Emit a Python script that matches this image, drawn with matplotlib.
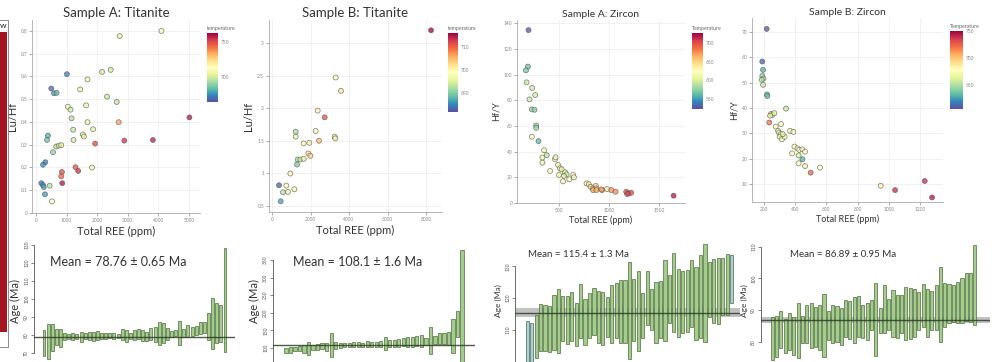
import numpy as np
import matplotlib
matplotlib.use("Agg")
import matplotlib.pyplot as plt
from matplotlib.patches import Rectangle
from matplotlib.ticker import FormatStrFormatter

plt.rcParams['font.family'] = ['Lato', 'DejaVu Sans']

W, H = 1000, 362

# ---- scatter data: Total REE (ppm), ratio, temperature ----
a_ree = [2734, 4100, 1009, 2159, 2441, 1682, 499, 586, 673, 1443, 2322, 2637, 1042, 1128, 1638,
         1161, 1682, 2702, 5013, 1215, 1866, 390, 358, 1530, 1562, 1226, 1931, 2886, 3819, 662,
         749, 825, 553, 304, 228, 846, 825, 1291, 1378, 1834, 857, 174, 228, 250, 445, 293, 521]
a_luhf = [0.777, 0.80, 0.610, 0.62, 0.629, 0.587, 0.547, 0.526, 0.528, 0.543, 0.511, 0.488, 0.467,
          0.454, 0.473, 0.416, 0.399, 0.399, 0.420, 0.366, 0.368, 0.340, 0.321, 0.345, 0.336, 0.321,
          0.305, 0.318, 0.321, 0.292, 0.296, 0.298, 0.267, 0.223, 0.212, 0.180, 0.161, 0.201, 0.185,
          0.200, 0.131, 0.131, 0.123, 0.114, 0.120, 0.082, 0.051]
a_temp = [705, 710, 672, 700, 700, 708, 668, 678, 682, 705, 698, 698, 708, 700, 708,
          695, 705, 735, 760, 698, 705, 680, 683, 705, 705, 700, 750, 755, 758, 695,
          702, 703, 690, 672, 675, 750, 745, 748, 755, 708, 760, 672, 675, 678, 695, 676, 712]

b_ree = [8261, 3308, 3585, 2373, 2737, 1230, 1230, 2269, 3256, 3290, 2442, 1645, 1940, 1888, 1992,
         1334, 1472, 1645, 1299, 953, 364, 745, 1160, 572, 831, 450]
b_luhf = [3.195, 2.471, 2.266, 1.963, 1.860, 1.64, 1.563, 1.650, 1.563, 1.537, 1.501, 1.46, 1.47,
          1.306, 1.27, 1.213, 1.213, 1.224, 1.136, 0.998, 0.818, 0.813, 0.757, 0.71, 0.716, 0.572]
b_temp = [716, 700, 702, 700, 711, 692, 696, 700, 697, 697, 705, 700, 700, 703, 703,
          692, 694, 696, 690, 700, 683, 700, 700, 693, 697, 687]

c_ree = [195, 189, 169, 176, 232, 262, 205, 228, 255, 272, 272, 228, 295, 351, 377, 334, 334,
         460, 466, 411, 490, 510, 526, 500, 560, 576, 550, 540, 603, 642, 649, 775, 798, 815,
         841, 868, 874, 841, 874, 931, 925, 980, 1023, 1066, 1172, 1195, 1222, 1182, 1646]
c_hfy = [134.8, 106.3, 103.4, 94, 89.6, 84.1, 80.7, 72.9, 72.6, 60.3, 58.5, 51.5, 48.1, 41, 37.1,
         35.3, 31.3, 34, 35.5, 24.8, 29.5, 26.9, 26.1, 21.7, 23.8, 22.2, 20.9, 16.7, 18.3, 21.7,
         19.9, 15.1, 14.4, 12.5, 11.2, 13.1, 11.2, 9.9, 9.9, 9.9, 10.4, 10.7, 9.9, 8.6, 8.6, 7.3,
         7.8, 6.8, 5.5]
c_temp = [525, 565, 570, 595, 600, 600, 595, 580, 575, 575, 580, 620, 560, 615, 590, 610, 610,
          620, 620, 625, 610, 610, 610, 612, 600, 600, 600, 620, 618, 620, 620, 635, 635, 650,
          650, 650, 650, 665, 665, 670, 670, 635, 675, 675, 700, 700, 700, 700, 720]

d_ree = [217, 189, 194, 189, 196, 185, 194, 219, 221, 341, 245, 253, 266, 239, 234, 309, 275,
         290, 296, 307, 300, 315, 332, 320, 367, 388, 395, 414, 426, 446, 380, 422, 446, 463,
         422, 463, 499, 559, 948, 1040, 1230, 1277]
d_hfy = [71.3, 58.4, 55.1, 52.7, 51.7, 51.2, 49.2, 45.4, 44.8, 39.8, 37.7, 37.3, 38, 37, 34.3,
         33.7, 32.7, 31, 30.3, 29.7, 28.7, 27.7, 28.7, 29.7, 31, 30.6, 24.8, 24.1, 23.5, 23.7,
         22.1, 21.3, 19.8, 22.8, 18.2, 17.1, 14.5, 16.5, 9.3, 7.6, 11.2, 4.7]
d_temp = [608, 610, 630, 645, 650, 650, 655, 635, 635, 655, 665, 665, 665, 665, 720, 675, 675,
          670, 670, 670, 670, 670, 670, 670, 672, 672, 675, 675, 675, 675, 675, 660, 630, 675,
          675, 665, 725, 680, 685, 740, 740, 745]

# ---- weighted mean data: age (Ma) and error ----
e_age = [75.56, 76.30, 78.61, 78.80, 78.43, 79.07, 79.07, 79.07, 79.07, 79.07, 79.26, 79.54,
         79.35, 79.81, 79.26, 79.26, 79.54, 79.44, 79.35, 80.19, 79.54, 79.26, 80.00, 80.37,
         79.81, 79.35, 80.46, 80.46, 80.93, 81.11, 80.46, 80.56, 81.11, 81.20, 81.30, 82.31,
         82.04, 82.41, 83.80, 84.17, 84.63, 86.20, 86.67, 86.48, 99.44]
e_err = [7.22, 9.81, 7.31, 4.35, 4.91, 1.85, 1.48, 1.85, 1.48, 2.78, 1.67, 2.31, 2.50, 2.59,
         1.67, 1.67, 1.39, 1.85, 1.20, 2.96, 3.24, 1.67, 2.78, 2.78, 2.96, 2.50, 3.24, 4.17,
         6.48, 5.74, 3.24, 1.85, 1.67, 6.76, 2.22, 3.24, 2.59, 2.59, 3.24, 3.24, 7.41, 14.17,
         11.30, 10.19, 28.70]
e_mean = 78.76

f_age = [91.95, 94.32, 98.11, 99.53, 97.63, 98.11, 101.42, 102.37, 104.73, 103.79, 107.58,
         107.58, 106.16, 108.52, 108.52, 109.94, 109.94, 109.47, 112.31, 110.89, 110.89, 110.89,
         113.26, 113.26, 113.26, 114.20, 116.57, 117.05, 117.05, 119.89, 119.41, 117.99, 121.78,
         122.73, 126.52, 127.46, 127.46, 134.09, 169.13, 219.79]
f_err = [7.1, 7.58, 5.68, 7.10, 10.89, 17.99, 7.10, 8.05, 8.52, 11.36, 34.09, 10.42, 7.10,
         6.63, 6.63, 8.05, 6.16, 5.68, 8.52, 7.10, 7.10, 9.0, 18.94, 9.47, 9.47, 10.42, 10.89,
         13.26, 15.15, 14.20, 17.52, 9.47, 38.83, 11.36, 15.15, 16.10, 18.94, 47.35, 36.93, 158.6]
f_mean = 108.1

g_age = [105.35, 105.35, 107.93, 110.66, 110.51, 110.20, 112.31, 112.72, 113.50, 112.98, 114.01,
         111.59, 115.82, 112.47, 114.53, 115.82, 114.01, 113.50, 114.01, 114.89, 115.98, 115.67,
         115.72, 115.98, 116.08, 115.82, 114.53, 119.95, 116.44, 115.41, 116.34, 119.07, 119.54,
         121.75, 118.50, 118.66, 119.17, 121.39, 118.30, 120.57, 121.50, 122.63, 122.27, 122.06,
         123.56, 124.33, 126.04]
g_err = [7.33, 6.81, 6.81, 7.48, 7.12, 7.22, 8.62, 10.06, 7.22, 7.53, 7.74, 6.86, 8.51, 7.22,
         7.12, 7.48, 8.26, 8.26, 6.19, 9.13, 8.67, 9.91, 9.96, 15.38, 9.80, 12.64, 7.12, 8.51,
         6.55, 9.65, 9.03, 12.80, 7.59, 12.59, 10.68, 9.80, 9.80, 10.47, 11.51, 13.05, 15.53,
         8.62, 10.01, 10.42, 9.03, 9.60, 7.59]
g_rejected = [0, 1, 46]
g_mean, g_mean_err = 115.4, 1.3

h_age = [80.96, 81.69, 83.85, 81.69, 83.27, 81.75, 83.53, 83.80, 85.53, 85.11, 84.64, 84.48,
         85.16, 85.11, 85.53, 85.64, 84.74, 87.37, 86.85, 86.95, 88.00, 86.32, 86.42, 88.42,
         87.06, 86.58, 90.26, 88.53, 88.95, 87.90, 88.69, 88.84, 88.79, 89.05, 89.74, 91.47,
         89.05, 89.89, 90.79, 91.74, 91.68, 92.10, 92.10, 92.37, 92.89, 94.10, 93.94, 97.89]
h_err = [6.73, 6.41, 5.94, 5.36, 5.89, 5.94, 8.78, 4.31, 6.05, 7.20, 6.20, 7.10, 9.88, 4.57,
         6.05, 5.63, 5.78, 5.78, 6.10, 7.26, 6.41, 5.26, 5.89, 4.73, 11.57, 3.94, 7.62, 4.84,
         7.36, 6.83, 6.05, 8.31, 8.04, 7.47, 6.05, 6.73, 7.47, 6.20, 7.10, 11.72, 6.94, 6.10,
         5.78, 6.57, 7.10, 7.47, 7.62, 12.62]
h_mean, h_mean_err = 86.89, 0.95


def px_axes(fig, left, top, right, bottom):
    return fig.add_axes([left / W, 1 - bottom / H, (right - left) / W, (bottom - top) / H])


def scatter_panel(fig, box, x, y, t, vmin, vmax, xlim, ylim, xticks, yticks,
                  title, ylabel, cbox, cticks, clabel, small=False):
    ax = px_axes(fig, *box)
    sc = ax.scatter(x, y, c=t, cmap='Spectral_r', vmin=vmin, vmax=vmax, s=13,
                    alpha=0.75, edgecolors='#505050', linewidths=0.5, zorder=3)
    ax.set_xlim(xlim)
    ax.set_ylim(ylim)
    ax.set_xticks(xticks)
    ax.set_yticks(yticks)
    ax.yaxis.set_major_formatter(FormatStrFormatter('%g'))
    ax.tick_params(labelsize=3.5, colors='#888888', length=2, width=0.5, pad=1.5)
    ax.grid(color='#efefef', linewidth=0.6, zorder=0)
    for s in ['top', 'right']:
        ax.spines[s].set_visible(False)
    for s in ['left', 'bottom']:
        ax.spines[s].set_color('#aaaaaa')
        ax.spines[s].set_linewidth(0.6)
    ax.set_title(title, fontsize=7.5 if small else 9.5, color='#333333', pad=2)
    ax.set_xlabel('Total REE (ppm)', fontsize=6.5 if small else 8, color='#333333', labelpad=2)
    ax.set_ylabel(ylabel, fontsize=6.5 if small else 8, color='#333333', labelpad=2)

    cax = px_axes(fig, *cbox)
    cb = fig.colorbar(sc, cax=cax)
    cb.solids.set_alpha(1)
    cb.outline.set_visible(False)
    cb.set_ticks(cticks)
    cax.tick_params(labelsize=3.5, colors='#888888', length=0, pad=2)
    cax.set_title(clabel, fontsize=3.8, color='#666666', loc='left', pad=2)
    return ax


def mean_panel(fig, box, age, err, mean, ylim, yticks, spine_lo, spine_hi, xlim,
               label, lsize, rejected=(), mean_err=None, text_xy=(0.5, 0.85), tsize=8.5):
    ax = px_axes(fig, *box)
    idx = np.arange(len(age))
    age = np.asarray(age)
    err = np.asarray(err)
    colors = ['#a9cfe0' if i in rejected else '#a4cc8c' for i in idx]
    if mean_err is not None:
        ax.axhspan(mean - mean_err, mean + mean_err, color='#8e8e8e', alpha=0.55,
                   lw=0, zorder=1)
    ax.bar(idx, 2 * err, bottom=age - err, width=0.72, color=colors,
           edgecolor='#4d6b3c', linewidth=0.5, zorder=2)
    ax.axhline(mean, color='#2e3f28', linewidth=1.0, alpha=0.85, zorder=3)
    ax.set_xlim(xlim)
    ax.set_ylim(ylim)
    ax.set_yticks(yticks)
    ax.set_xticks([])
    ax.spines['left'].set_bounds(spine_lo, spine_hi)
    ax.spines['left'].set_color('#555555')
    ax.spines['left'].set_linewidth(0.6)
    for s in ['top', 'right', 'bottom']:
        ax.spines[s].set_visible(False)
    ax.patch.set_alpha(0)
    ax.tick_params(axis='y', labelsize=3.5, colors='#555555', length=2.5, width=0.5,
                   pad=1, labelrotation=90)
    for lab in ax.get_yticklabels():
        lab.set_va('center')
    ax.set_ylabel('Age (Ma)', fontsize=lsize, color='#333333', labelpad=2)
    ax.text(text_xy[0], text_xy[1], f'Mean = {label}', transform=ax.transAxes,
            ha='center', va='center', fontsize=tsize, color='#333333', zorder=4)
    return ax


fig = plt.figure(figsize=(10, 3.62), dpi=100)

# cropped neighbour panel on the left edge
fig.patches.append(Rectangle((-5 / W, 1 - 347 / H), 13 / W, 327 / H, transform=fig.transFigure,
                             facecolor='white', edgecolor='#777777', linewidth=0.6))
fig.patches.append(Rectangle((0, 1 - 332 / H), 7 / W, 300 / H, transform=fig.transFigure,
                             facecolor='#a3151f', edgecolor='none'))
fig.text(3 / W, 1 - 26 / H, 'w', fontsize=6, ha='center', va='center', color='#222222')

scatter_panel(fig, (32, 20, 200, 213), a_ree, a_luhf, a_temp, 664, 763,
              (-131, 5359), (0, 0.848), [0, 1000, 2000, 3000, 4000, 5000],
              [0, 0.1, 0.2, 0.3, 0.4, 0.5, 0.6, 0.7, 0.8], 'Sample A: Titanite', 'Lu/Hf',
              (207, 33, 218, 102), [700, 750], 'temperature')
scatter_panel(fig, (269, 20, 442, 212), b_ree, b_luhf, b_temp, 682, 716,
              (-156, 8831), (0.408, 3.353), [0, 2000, 4000, 6000, 8000],
              [0.5, 1, 1.5, 2, 2.5, 3], 'Sample B: Titanite', 'Lu/Hf',
              (448, 33, 458, 112), [690, 700, 710], 'temperature')
scatter_panel(fig, (517, 20, 685, 203), c_ree, c_hfy, c_temp, 523, 727,
              (80, 1760), (-0.2, 142.7), [500, 1000, 1500],
              [0, 20, 40, 60, 80, 100, 120, 140], 'Sample A: Zircon', 'Hf/Y',
              (692, 33, 703, 109), [550, 600, 650, 700], 'Temperature', small=True)
scatter_panel(fig, (752, 18, 943, 202), d_ree, d_hfy, d_temp, 606, 750,
              (123, 1347), (2.9, 75.6), [200, 400, 600, 800, 1000, 1200],
              [10, 20, 30, 40, 50, 60, 70], 'Sample B: Zircon', 'Hf/Y',
              (950, 31, 963, 109), [650, 700, 750], 'Temperature', small=True)

mean_panel(fig, (34, 240, 235, 362), e_age, e_err, e_mean, (65, 132.8),
           [70, 80, 90, 100, 110, 120, 130], 70, 130, (-2.43, 46.43),
           '78.76 ± 0.65 Ma', 8, text_xy=(0.42, 0.82), tsize=9)
mean_panel(fig, (273, 240, 475, 362), f_age, f_err, f_mean, (60.2, 406.8),
           [100, 150, 200, 250, 300, 350], 60, 350, (-2.88, 41.88),
           '108.1 ± 1.6 Ma', 8, text_xy=(0.42, 0.82), tsize=9)
mean_panel(fig, (515, 240, 740, 362), g_age, g_err, g_mean, (99.8, 138.3),
           [110, 120, 130], 99.8, 130, (-2.77, 47.9),
           '115.4 ± 1.3 Ma', 6, rejected=g_rejected, mean_err=g_mean_err,
           text_xy=(0.28, 0.88), tsize=7)
mean_panel(fig, (761, 240, 990, 362), h_age, h_err, h_mean, (73.6, 112.1),
           [80, 90, 100, 110], 80, 110, (-2.62, 50.5),
           '86.89 ± 0.95 Ma', 6, mean_err=h_mean_err, text_xy=(0.36, 0.88), tsize=7)

fig.savefig('out.png', dpi=100)
